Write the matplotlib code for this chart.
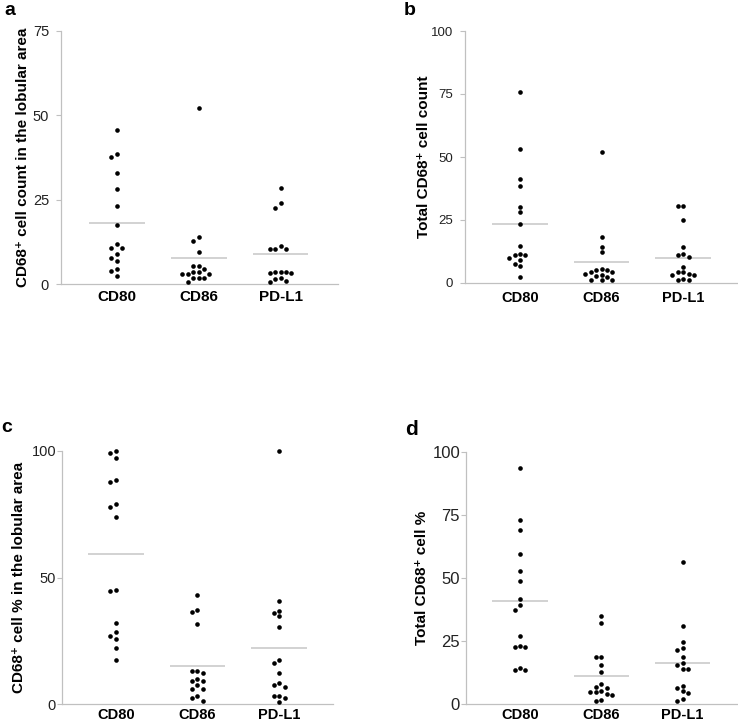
import numpy as np
import matplotlib
matplotlib.use("Agg")
import matplotlib.pyplot as plt

plt.rcParams['font.family'] = ['Liberation Sans', 'DejaVu Sans']

groups = ["CD80", "CD86", "PD-L1"]

# a: CD68+ cell count in the lobular area
a_cd80 = [45.6, 38.6, 37.7, 32.8, 28.3, 23.2, 17.4, 11.8, 10.8, 10.8, 8.9, 7.8, 6.9, 4.4, 3.8, 2.4]
a_cd86 = [52.1, 13.9, 12.6, 9.4, 5.3, 5.3, 4.3, 3.7, 3.7, 3.0, 3.0, 3.0, 1.7, 1.7, 1.7, 0.5]
a_pdl1 = [28.6, 23.9, 22.6, 11.4, 10.5, 10.5, 10.5, 3.7, 3.7, 3.5, 3.3, 3.3, 1.8, 1.5, 1.0, 0.5]

# b: total CD68+ cell count
b_cd80 = [75.7, 53.3, 41.3, 38.6, 30.2, 28.2, 23.5, 14.8, 11.6, 11.2, 11.0, 9.8, 9.1, 7.4, 6.7, 2.4]
b_cd86 = [52.1, 18.1, 14.4, 12.4, 5.4, 5.0, 5.0, 4.2, 4.2, 3.6, 3.2, 2.9, 2.4, 1.2, 1.2, 1.2]
b_pdl1 = [30.7, 30.7, 25.1, 14.3, 11.4, 11.2, 10.2, 6.5, 4.2, 4.2, 3.4, 3.2, 3.0, 1.5, 1.0, 1.0]

# c: CD68+ cell % in the lobular area
c_cd80 = [100, 99.3, 97.4, 88.4, 87.6, 79.0, 78.0, 74.0, 45.2, 44.7, 31.9, 28.3, 27.0, 25.6, 22.3, 17.4]
c_cd86 = [43.1, 37.3, 36.5, 31.7, 13.0, 13.0, 12.1, 9.7, 8.9, 8.9, 7.4, 5.9, 5.9, 3.0, 2.2, 1.3]
c_pdl1 = [100, 40.7, 36.8, 35.8, 34.9, 30.6, 17.3, 16.3, 12.3, 8.4, 7.4, 6.7, 3.2, 3.2, 2.5, 0.8]

# d: total CD68+ cell %
d_cd80 = [93.8, 73.1, 69.0, 59.6, 52.8, 48.9, 41.6, 39.2, 37.3, 27.0, 23.0, 22.7, 22.5, 14.1, 13.6, 13.4]
d_cd86 = [35.1, 32.1, 18.8, 18.5, 15.3, 12.6, 7.9, 6.7, 6.3, 5.0, 4.9, 4.6, 3.8, 3.4, 1.6, 1.3]
d_pdl1 = [56.3, 30.9, 24.8, 22.2, 21.3, 18.5, 16.4, 15.5, 13.7, 13.7, 7.1, 6.2, 5.1, 4.5, 2.0, 1.3]

W, H = 738, 722
fig = plt.figure(figsize=(W / 100, H / 100), dpi=100)

GRID = "#c0c0c0"
MEANC = "#d2d2d2"


def px_rect(left, top, right, bottom):
    return [left / W, 1 - bottom / H, (right - left) / W, (bottom - top) / H]


def swarm(values, px_per_unit, step_px=5.4, min_gap=4.8):
    # simple column swarm: put each dot in the nearest free column
    placed = []
    cols = []
    order = [0, -1, 1, -2, 2, -3, 3, -4, 4, -5, 5]
    for v in values:
        y = v * px_per_unit
        for c in order:
            if all(abs(y - py) >= min_gap for py, pc in placed if pc == c):
                break
        placed.append((y, c))
        cols.append(c)
    return np.array(cols) * step_px


def panel(rect, series, ymax, yticks, ylabel, label_x, xlim, ytick_size, xtick_size, ypad, xpad):
    ax = fig.add_axes(px_rect(*rect))
    ax.set_xlim(*xlim)
    ax.set_ylim(0, ymax)
    w_px = rect[2] - rect[0]
    h_px = rect[3] - rect[1]
    x_px_unit = w_px / (xlim[1] - xlim[0])
    y_px_unit = h_px / ymax
    for i, vals in enumerate(series):
        pos = i + 1
        off = swarm(vals, y_px_unit) / x_px_unit
        m = np.mean(vals)
        ax.plot([pos - 0.34, pos + 0.34], [m, m], color=MEANC, lw=1.4, zorder=1,
                solid_capstyle='butt')
        ax.scatter(pos + off, vals, s=11, color="black", linewidths=0, zorder=3, clip_on=False)
    ax.set_xticks([1, 2, 3])
    ax.set_xticklabels(groups, fontweight="bold", fontsize=xtick_size)
    ax.set_yticks(yticks)
    ax.tick_params(axis="x", length=0, pad=xpad)
    ax.tick_params(axis="y", length=3.3, width=0.8, color=GRID, labelsize=ytick_size,
                   pad=ypad, labelcolor="#222222")
    for s in ["top", "right"]:
        ax.spines[s].set_visible(False)
    for s in ["left", "bottom"]:
        ax.spines[s].set_color(GRID)
        ax.spines[s].set_linewidth(0.9)
    ax.text(label_x, 0.5, ylabel, transform=ax.transAxes, rotation=90, ha="center",
            va="center", fontsize=11, fontweight="bold")
    return ax


panel((61, 31, 338, 284), [a_cd80, a_cd86, a_pdl1], 75, [0, 25, 50, 75],
      "CD68⁺ cell count in the lobular area", (23 - 61) / 277, (0.32, 3.70), 10.5, 11, 5.3, 4.5)
panel((465, 31, 737, 283), [b_cd80, b_cd86, b_pdl1], 100, [0, 25, 50, 75, 100],
      "Total CD68⁺ cell count", (423.5 - 465) / 272, (0.325, 3.66), 9.5, 10.5, 5.3, 5.5)
panel((62, 451, 333, 704), [c_cd80, c_cd86, c_pdl1], 100, [0, 50, 100],
      "CD68⁺ cell % in the lobular area", (19 - 62) / 271, (0.34, 3.66), 10.5, 10.5, 1.0, 3.0)
panel((466, 452, 737, 704), [d_cd80, d_cd86, d_pdl1], 100, [0, 25, 50, 75, 100],
      "Total CD68⁺ cell %", (421.5 - 466) / 271, (0.335, 3.67), 12, 10.5, 1.0, 3.0)

# panel letters
for ch, x, y, fs in [("a", 4, 2, 14), ("b", 404, 2, 14), ("c", 1, 419, 14), ("d", 405, 420, 15)]:
    fig.text(x / W, 1 - y / H, ch, fontsize=fs, fontweight="bold", ha="left", va="top")

fig.savefig("out.png", dpi=100)
